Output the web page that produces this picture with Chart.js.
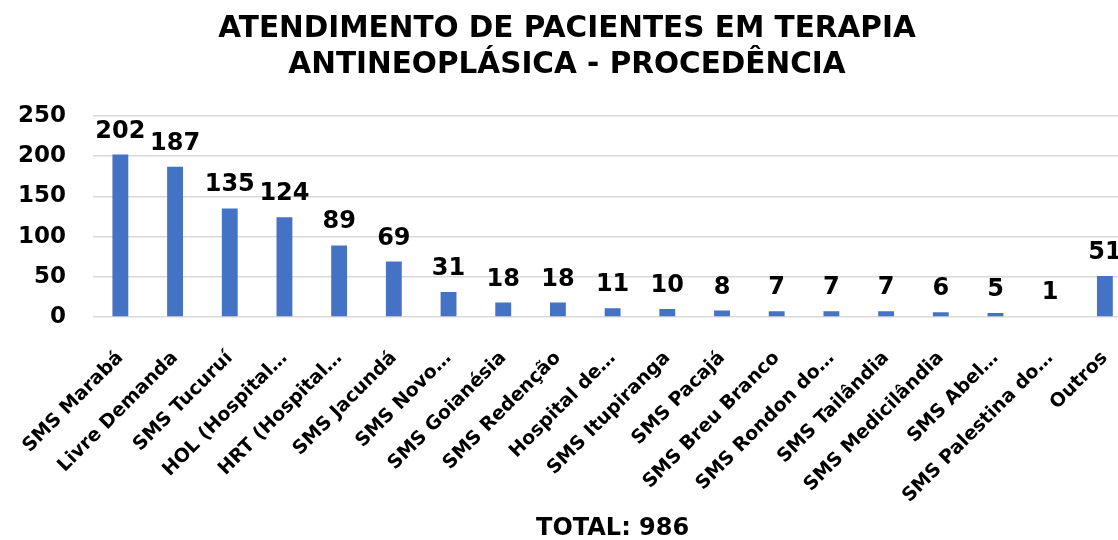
<!DOCTYPE html>
<html>
<head>
<meta charset="utf-8">
<script src="https://cdn.jsdelivr.net/npm/chart.js@4"></script>
<style>
  html, body { margin: 0; padding: 0; background: #fff; overflow: hidden; }
  #clip { width: 1118px; height: 540px; overflow: hidden; }
  #wrap { width: 1143px; height: 540px; }
</style>
</head>
<body>
<div id="clip"><div id="wrap"><canvas id="chart"></canvas></div></div>
<script>
const categories = [
  "SMS Marabá", "Livre Demanda", "SMS Tucuruí", "HOL (Hospital…",
  "HRT (Hospital…", "SMS Jacundá", "SMS Novo…", "SMS Goianésia",
  "SMS Redenção", "Hospital de…", "SMS Itupiranga", "SMS Pacajá",
  "SMS Breu Branco", "SMS Rondon do…", "SMS Tailândia", "SMS Medicilândia",
  "SMS Abel…", "SMS Palestina do…", "Outros"
];
const pacientes = [202, 187, 135, 124, 89, 69, 31, 18, 18, 11, 10, 8, 7, 7, 7, 6, 5, 1, 51];
const yTicks = [0, 50, 100, 150, 200, 250];
const titleLines = ["ATENDIMENTO DE PACIENTES EM TERAPIA", "ANTINEOPLÁSICA - PROCEDÊNCIA"];
const totalLabel = "TOTAL: 986";

const FONT = "'DejaVu Sans', Verdana, sans-serif";

// draws the value above each bar
const valueLabels = {
  id: 'valueLabels',
  afterDatasetsDraw(chart) {
    const ctx = chart.ctx;
    const meta = chart.getDatasetMeta(0);
    ctx.save();
    ctx.font = "bold 24px " + FONT;
    ctx.fillStyle = '#000';
    ctx.textAlign = 'center';
    ctx.textBaseline = 'alphabetic';
    meta.data.forEach(function(bar, i) {
      ctx.fillText(pacientes[i], bar.x, bar.y - 17);
    });
    ctx.restore();
  }
};

new Chart(document.getElementById('chart'), {
  type: 'bar',
  data: {
    labels: categories,
    datasets: [{
      data: pacientes,
      backgroundColor: '#4472C4',
      barPercentage: 0.29,
      categoryPercentage: 1
    }]
  },
  options: {
    responsive: true,
    maintainAspectRatio: false,
    animation: false,
    // negative left padding: the rotated first label reserves more room than the original uses
    layout: { padding: { left: -9, right: 0, top: 11, bottom: 0 } },
    plugins: {
      legend: { display: false },
      tooltip: { enabled: false },
      title: {
        display: true,
        text: titleLines,
        color: '#000',
        font: { family: FONT, size: 29.5, weight: 'bold', lineHeight: 1.22 },
        padding: { top: 0, bottom: 33 }
      }
    },
    scales: {
      x: {
        afterFit: function(scale) {
          scale.height = 223;
        },
        grid: { display: false },
        border: { display: false },
        ticks: {
          color: '#000',
          font: { family: FONT, size: 19, weight: 'bold' },
          minRotation: 45,
          maxRotation: 45,
          autoSkip: false,
          padding: 22
        },
        title: {
          display: true,
          text: totalLabel,
          color: '#000',
          font: { family: FONT, size: 24, weight: 'bold' },
          padding: { top: 8, bottom: -3 }
        }
      },
      y: {
        min: yTicks[0],
        max: yTicks[yTicks.length - 1],
        afterBuildTicks: function(axis) {
          axis.ticks = yTicks.map(function(v) { return { value: v }; });
        },
        grid: { color: '#d9d9d9', lineWidth: 1.5, drawTicks: false },
        border: { display: false },
        ticks: {
          color: '#000',
          font: { family: FONT, size: 23, weight: 'bold' },
          padding: 27
        }
      }
    }
  },
  plugins: [valueLabels]
});
</script>
</body>
</html>
